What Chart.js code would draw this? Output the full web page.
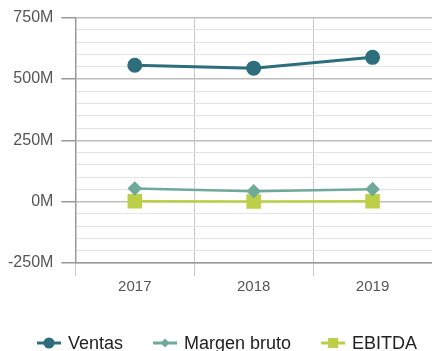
<!DOCTYPE html>
<html>
<head>
<meta charset="utf-8">
<script src="https://cdn.jsdelivr.net/npm/chart.js@4"></script>
<style>
  html, body { margin: 0; padding: 0; background: #fff; }
  #wrap { width: 432px; height: 351px; }
</style>
</head>
<body>
<div id="wrap"><canvas id="c" width="432" height="351"></canvas></div>
<script>
const years = ['2017', '2018', '2019'];
const ventas = [556, 544, 588];
const margenBruto = [54, 42, 51];
const ebitda = [2, 1, 2];

const COLORS = { ventas: '#2d6e7c', margen: '#6faa98', ebitda: '#bccf47' };

// legend swatch: short line with the series marker on top
function drawSwatch(g, x, y, color, shape) {
  g.save();
  g.strokeStyle = color; g.fillStyle = color; g.lineWidth = 3;
  g.beginPath(); g.moveTo(x, y); g.lineTo(x + 24, y); g.stroke();
  g.beginPath();
  const cx = x + 12;
  if (shape === 'circle') { g.arc(cx, y, 5.5, 0, Math.PI * 2); }
  else if (shape === 'rectRot') { g.moveTo(cx, y - 4.5); g.lineTo(cx + 4.5, y); g.lineTo(cx, y + 4.5); g.lineTo(cx - 4.5, y); g.closePath(); }
  else { g.rect(cx - 5, y - 5, 10, 10); }
  g.fill();
  g.restore();
}

// bottom legend row: line+marker swatch, then the series name
const lineLegend = {
  id: 'lineLegend',
  afterDraw(chart) {
    const g = chart.ctx;
    const y = 343;
    let x = 37;
    g.save();
    g.font = '18px "Liberation Sans"';
    g.fillStyle = '#222';
    g.textBaseline = 'middle';
    chart.data.datasets.forEach(ds => {
      drawSwatch(g, x, y, ds.borderColor, ds.pointStyle);
      x += 31;
      g.fillText(ds.label, x, y + 1);
      x += g.measureText(ds.label).width + 30;
    });
    g.restore();
  }
};

new Chart(document.getElementById('c'), {
  type: 'line',
  data: {
    labels: years,
    datasets: [
      { label: 'Ventas', data: ventas, borderColor: COLORS.ventas, backgroundColor: COLORS.ventas,
        pointStyle: 'circle', pointRadius: 6, pointHoverRadius: 6, borderWidth: 3 },
      { label: 'Margen bruto', data: margenBruto, borderColor: COLORS.margen, backgroundColor: COLORS.margen,
        pointStyle: 'rectRot', pointRadius: 5.5, pointHoverRadius: 5.5, borderWidth: 2.5 },
      { label: 'EBITDA', data: ebitda, borderColor: COLORS.ebitda, backgroundColor: COLORS.ebitda,
        pointStyle: 'rect', pointRadius: 8.5, pointHoverRadius: 8.5, borderWidth: 2.5 }
    ]
  },
  plugins: [lineLegend],
  options: {
    responsive: false,
    animation: false,
    layout: { autoPadding: false, padding: { top: 13, right: 0, left: 0, bottom: 40 } },
    plugins: {
      tooltip: { enabled: false },
      legend: { display: false }
    },
    scales: {
      x: {
        offset: true,
        grid: { offset: true, color: '#c8c8c8', tickLength: 13, drawTicks: true },
        border: { color: '#999', width: 1.5 },
        ticks: { color: '#555', font: { family: 'Liberation Sans', size: 15 }, padding: 2 },
        afterFit(scale) { scale.height += 13; }
      },
      y: {
        min: -250, max: 750,
        grid: {
          color: ctx => (ctx.tick && ctx.tick.value % 250 === 0) ? '#bdbdbd' : '#e4e4e4',
          lineWidth: ctx => (ctx.tick && ctx.tick.value % 250 === 0) ? 1.5 : 1,
          tickColor: ctx => (ctx.tick && ctx.tick.value % 250 === 0) ? '#999' : 'rgba(0,0,0,0)',
          tickLength: 14
        },
        border: { color: '#999', width: 1.5 },
        ticks: {
          stepSize: 50, autoSkip: false,
          color: '#555', font: { family: 'Liberation Sans', size: 16 }, padding: 8,
          callback: v => (v % 250 === 0) ? v + 'M' : ''
        }
      }
    }
  }
});
</script>
</body>
</html>
